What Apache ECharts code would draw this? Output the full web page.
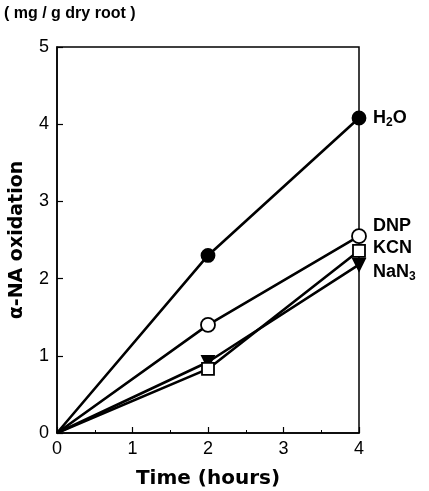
<!DOCTYPE html>
<html><head><meta charset="utf-8">
<script src="https://cdn.jsdelivr.net/npm/echarts@6/dist/echarts.min.js"></script>
<style>html,body{margin:0;padding:0;background:#fff}#c{width:429px;height:491px}</style>
</head><body><div id="c"></div>
<script>
const times = [0, 2, 4];
const h2o = [0, 2.3, 4.08];
const dnp = [0, 1.4, 2.55];
const kcn = [0, 0.83, 2.36];
const nan3 = [0, 0.92, 2.18];
const xTicks = [0, 1, 2, 3, 4];
const yTicks = [0, 1, 2, 3, 4, 5];

const F = 'Liberation Sans, Arial, sans-serif';
const FB = 'DejaVu Sans, sans-serif';
function pts(vals){ return times.map((t,i)=> i===0 ? {value:[t,vals[i]], symbol:'none'} : [t, vals[i]]); }
function mk(name, vals, symbol, fill, size, labelText, offset){
  return {
    name, type:'line', data: pts(vals), symbol, symbolSize:size,
    lineStyle:{color:'#000', width:2.6},
    itemStyle:{color:fill, borderColor:'#000', borderWidth:1.8},
    z: fill==='#000'?3:4,
    endLabel:{show:true, formatter:labelText, color:'#000', fontFamily:F, fontWeight:'bold', fontSize:18, offset:offset, distance:14,
      rich:{s:{fontSize:12, fontWeight:'bold', fontFamily:F, verticalAlign:'bottom', padding:[9,0,0,0]}}},
    animation:false
  };
}
const chart = echarts.init(document.getElementById('c'));
chart.setOption({
  animation:false,
  grid:{left:57, right:70, top:47, bottom:58, outerBoundsMode:'none', containLabel:false, show:true, borderColor:'#000', borderWidth:1.5},
  xAxis:{type:'value', min:0, max:4, interval:1,
    axisLine:{lineStyle:{color:'#000', width:1.5}},
    axisTick:{inside:true, length:6, lineStyle:{color:'#000', width:1.2}},
    minorTick:{show:true, splitNumber:2, length:3, lineStyle:{color:'#000'}},
    splitLine:{show:false},
    axisLabel:{color:'#000', fontSize:18, fontFamily:F, margin:7, formatter:v=>xTicks.includes(v)?String(v):''},
    name:'Time (hours)', nameLocation:'middle', nameGap:36,
    nameTextStyle:{color:'#000', fontSize:20, fontWeight:'bold', fontFamily:FB}
  },
  yAxis:{type:'value', min:0, max:5, interval:1,
    axisLine:{lineStyle:{color:'#000', width:1.5}},
    axisTick:{inside:true, length:6, lineStyle:{color:'#000', width:1.2}},
    splitLine:{show:false},
    axisLabel:{color:'#000', fontSize:18, fontFamily:F, margin:8, formatter:v=>yTicks.includes(v)?String(v):''},
    name:'α-NA oxidation', nameLocation:'middle', nameGap:30,
    nameTextStyle:{color:'#000', fontSize:19, fontWeight:'bold', fontFamily:FB}
  },
  graphic:[{type:'text', left:4, top:6, style:{text:'( mg / g dry root )', fontSize:16, fontWeight:'bold', fontFamily:F, fill:'#000'}}],
  series:[
    mk('H2O', h2o, 'circle', '#000', 13, 'H{s|2}O', [0,0]),
    mk('DNP', dnp, 'circle', '#fff', 14, 'DNP', [0,-10]),
    mk('KCN', kcn, 'rect', '#fff', 12, 'KCN', [0,-3]),
    mk('NaN3', nan3, 'triangle', '#000', 12, 'NaN{s|3}', [0,7])
  ]
});
chart.setOption({series:[{},{},{},{symbolRotate:180}]});
</script></body></html>
